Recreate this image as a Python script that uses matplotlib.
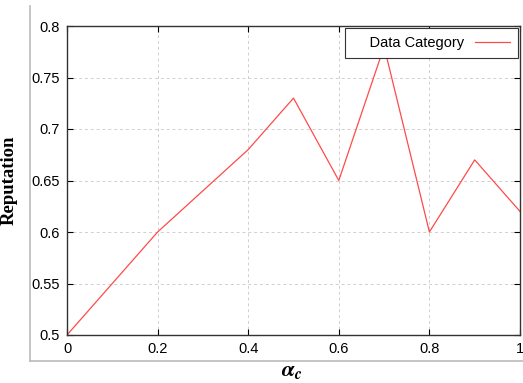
import matplotlib.pyplot as plt
from matplotlib.lines import Line2D

# alpha_c values and measured reputation
alpha_c = [0.0, 0.1, 0.2, 0.3, 0.4, 0.5, 0.6, 0.7, 0.8, 0.9, 1.0]
reputation = [0.5, 0.55, 0.6, 0.64, 0.68, 0.73, 0.65, 0.78, 0.6, 0.67, 0.62]

x_ticks = [0, 0.2, 0.4, 0.6, 0.8, 1]
x_tick_labels = ["0", "0.2", "0.4", "0.6", "0.8", "1"]
y_ticks = [0.5, 0.55, 0.6, 0.65, 0.7, 0.75, 0.8]
y_tick_labels = ["0.5", "0.55", "0.6", "0.65", "0.7", "0.75", "0.8"]

plt.rcParams["mathtext.fontset"] = "stix"
tick_font = "Liberation Sans"

fig = plt.figure(figsize=(5.23, 3.83), dpi=100)
ax = fig.add_axes([67 / 523, 1 - 335 / 383, (520 - 67) / 523, (335 - 26) / 383])

ax.plot(alpha_c, reputation, color="#ff4a4a", linewidth=0.9,
        label="    Data Category")

ax.set_xlim(0, 1)
ax.set_ylim(0.5, 0.8)
ax.set_xticks(x_ticks)
ax.set_xticklabels(x_tick_labels, fontfamily=tick_font, fontsize=10.5)
ax.set_yticks(y_ticks)
ax.set_yticklabels(y_tick_labels, fontfamily=tick_font, fontsize=10.5)
ax.tick_params(direction="in", length=4, width=0.8, top=True, right=True, pad=5)
ax.grid(True, linestyle=(0, (3, 3)), color="#cfcfcf", linewidth=0.7)
for s in ax.spines.values():
    s.set_color("#333333")
    s.set_linewidth(1.0)

leg = ax.legend(loc="upper right", markerfirst=False, fancybox=False,
                prop={"family": tick_font, "size": 10.5}, handlelength=2.4,
                handletextpad=0.7, borderpad=0.55, borderaxespad=0.15,
                framealpha=1)
leg.get_frame().set_edgecolor("#333333")
leg.get_frame().set_linewidth(0.8)

ax.set_ylabel("Reputation", fontfamily="Liberation Serif", fontweight="bold",
              fontsize=13.5)
ax.yaxis.set_label_coords(-0.108, 0.5)
ax.set_xlabel(r"$\mathbfit{\alpha}_{\mathbfit{c}}$", fontsize=16, va="center")
ax.xaxis.set_label_coords(0.497, -0.117)

# thin gray frame around the plot region
fig.add_artist(Line2D([30 / 523, 30 / 523], [1 - 6 / 383, 1 - 361 / 383],
                      color="#bbbbbb", linewidth=1.2))
fig.add_artist(Line2D([30 / 523, 1], [1 - 361 / 383, 1 - 361 / 383],
                      color="#bbbbbb", linewidth=1.2))

fig.savefig("out.png", dpi=100)
